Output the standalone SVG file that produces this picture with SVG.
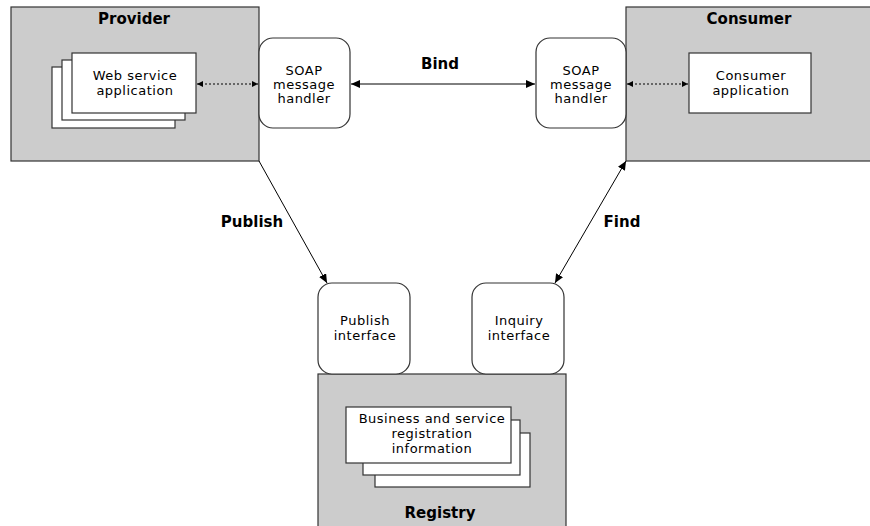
<svg xmlns="http://www.w3.org/2000/svg" width="870" height="526" viewBox="0 0 870 526">
<defs>
<marker id="ah" markerUnits="userSpaceOnUse" markerWidth="10" markerHeight="8" refX="9" refY="4" orient="auto-start-reverse"><path d="M0,0 L9,4 L0,8 z" fill="#000"/></marker>
<marker id="ahs" markerUnits="userSpaceOnUse" markerWidth="7" markerHeight="6" refX="6" refY="3" orient="auto-start-reverse"><path d="M0,0 L6,3 L0,6 z" fill="#000"/></marker>
<style>
.box{fill:#cccccc;stroke:#333;stroke-width:1.2}
.card{fill:#fff;stroke:#333;stroke-width:1.2}
.hnd{fill:#fff;stroke:#333;stroke-width:1.2}
.t{font-family:"DejaVu Sans",Verdana,sans-serif;font-size:13px;letter-spacing:0.5px;text-anchor:middle;fill:#000}
.b{font-family:"DejaVu Sans",Verdana,sans-serif;font-size:15px;font-weight:bold;text-anchor:middle;fill:#000}
.ln{stroke:#000;stroke-width:1;fill:none}
.dot{stroke:#000;stroke-width:1;stroke-dasharray:2,2;fill:none}
</style>
</defs>
<rect width="870" height="526" fill="#fff"/>

<g id="provider">
<rect class="box" x="11" y="7" width="248" height="154"/>
<text class="b" x="134" y="24">Provider</text>
</g>
<g id="web-service-application">
<rect class="card" x="52" y="67" width="123" height="61"/>
<rect class="card" x="62" y="60" width="123" height="60"/>
<rect class="card" x="72" y="53" width="124" height="60"/>
<text class="t" x="135" y="80">Web service</text>
<text class="t" x="135" y="95">application</text>
</g>
<g id="soap-provider">
<rect class="hnd" x="259" y="38" width="91" height="90" rx="14" ry="14"/>
<text class="t" x="304" y="75">SOAP</text>
<text class="t" x="304" y="89">message</text>
<text class="t" x="304" y="103">handler</text>
</g>

<g id="consumer">
<rect class="box" x="626" y="7" width="260" height="154"/>
<text class="b" x="749" y="24">Consumer</text>
</g>
<g id="consumer-application">
<rect class="card" x="689" y="53" width="122" height="60"/>
<text class="t" x="751" y="80">Consumer</text>
<text class="t" x="751" y="95">application</text>
</g>
<g id="soap-consumer">
<rect class="hnd" x="536" y="38" width="90" height="90" rx="14" ry="14"/>
<text class="t" x="581" y="75">SOAP</text>
<text class="t" x="581" y="89">message</text>
<text class="t" x="581" y="103">handler</text>
</g>

<g id="registry">
<rect class="box" x="318" y="374" width="248" height="170"/>
<text class="b" x="440" y="518">Registry</text>
</g>
<g id="registration-information">
<rect class="card" x="375" y="433" width="155" height="54"/>
<rect class="card" x="363" y="420" width="157" height="55"/>
<rect class="card" x="346" y="407" width="165" height="56"/>
<text class="t" x="432" y="423">Business and service</text>
<text class="t" x="432" y="438">registration</text>
<text class="t" x="432" y="453">information</text>
</g>
<g id="publish-interface">
<rect class="hnd" x="318" y="283" width="92" height="91" rx="14" ry="14"/>
<text class="t" x="365" y="325">Publish</text>
<text class="t" x="365" y="340">interface</text>
</g>
<g id="inquiry-interface">
<rect class="hnd" x="472" y="283" width="92" height="91" rx="14" ry="14"/>
<text class="t" x="519" y="325">Inquiry</text>
<text class="t" x="519" y="340">interface</text>
</g>

<g id="connectors">
<line class="dot" x1="197" y1="84" x2="258" y2="84" marker-start="url(#ahs)" marker-end="url(#ahs)"/>
<line class="dot" x1="627" y1="84" x2="688" y2="84" marker-start="url(#ahs)" marker-end="url(#ahs)"/>
<line class="ln" x1="351" y1="84" x2="535" y2="84" marker-start="url(#ah)" marker-end="url(#ah)"/>
<line class="ln" x1="259" y1="161" x2="327" y2="283" marker-end="url(#ah)"/>
<line class="ln" x1="626" y1="161" x2="555" y2="283" marker-start="url(#ah)" marker-end="url(#ah)"/>
<text class="b" x="440" y="69">Bind</text>
<text class="b" x="252" y="227">Publish</text>
<text class="b" x="622" y="227">Find</text>
</g>
</svg>
